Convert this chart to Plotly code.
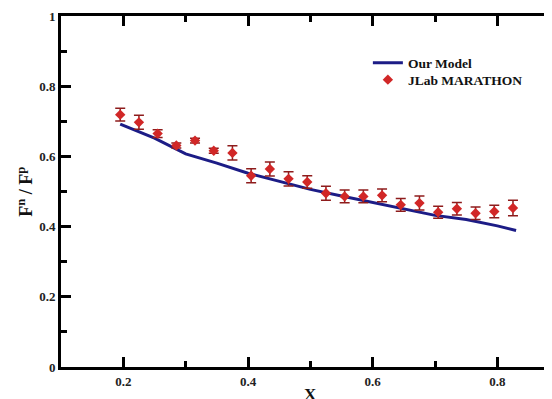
import plotly.graph_objects as go

# JLab MARATHON data (F2n/F2p)
data_x = [0.195, 0.225, 0.255, 0.285, 0.315, 0.345, 0.375, 0.405, 0.435, 0.465, 0.495,
          0.525, 0.555, 0.585, 0.615, 0.645, 0.675, 0.705, 0.735, 0.765, 0.795, 0.825]
data_y = [0.719, 0.697, 0.665, 0.631, 0.645, 0.616, 0.610, 0.545, 0.564, 0.536, 0.527,
          0.495, 0.486, 0.486, 0.489, 0.462, 0.467, 0.441, 0.451, 0.438, 0.443, 0.453]
data_err = [0.018, 0.020, 0.011, 0.007, 0.007, 0.007, 0.020, 0.020, 0.020, 0.020, 0.018,
            0.020, 0.018, 0.018, 0.018, 0.018, 0.020, 0.017, 0.018, 0.018, 0.018, 0.022]

# Model curve
model_x = [0.195, 0.25, 0.30, 0.35, 0.40, 0.45, 0.50, 0.55, 0.60, 0.65, 0.70, 0.75, 0.80, 0.83]
model_y = [0.692, 0.652, 0.607, 0.581, 0.552, 0.529, 0.506, 0.487, 0.468, 0.449, 0.432, 0.420, 0.402, 0.389]

x_ticks = [0.2, 0.4, 0.6, 0.8]
y_ticks = [0, 0.2, 0.4, 0.6, 0.8, 1]
y_ticklabels = ["0", "0.2", "0.4", "0.6", "0.8", "1"]

serif = "Liberation Serif"
legend_font = dict(family=serif, size=13.5, color="#111", weight="bold")
tick_font = dict(family=serif, size=13, color="#222", weight="bold")

fig = go.Figure()
fig.add_trace(go.Scatter(
    x=model_x, y=model_y, mode="lines", name="Our Model",
    line=dict(color="#1c1c86", width=3), legend="legend",
))
fig.add_trace(go.Scatter(
    x=data_x, y=data_y, mode="markers", name="JLab MARATHON",
    marker=dict(symbol="diamond", size=8, color="#d12727"),
    error_y=dict(type="data", array=data_err, visible=True, color="#8e1c1c",
                 thickness=1.5, width=5),
    legend="legend2",
))

fig.update_layout(
    width=544, height=391,
    margin=dict(l=53, r=0, t=8, b=32),
    paper_bgcolor="white", plot_bgcolor="white",
    showlegend=True,
    legend=dict(x=0.625, y=0.866, xanchor="left", yanchor="middle",
                bgcolor="rgba(0,0,0,0)", borderwidth=0, font=legend_font, itemwidth=30),
    legend2=dict(x=0.625, y=0.818, xanchor="left", yanchor="middle",
                 bgcolor="rgba(0,0,0,0)", borderwidth=0, font=legend_font, itemwidth=30),
    xaxis=dict(range=[0.1, 0.8876], showgrid=False, zeroline=False,
               showline=True, linecolor="black", linewidth=3, mirror="ticks",
               ticks="inside", ticklen=10, tickwidth=2.5, tickcolor="black",
               tickvals=x_ticks, ticktext=[str(v) for v in x_ticks], tickfont=tick_font,
               minor=dict(tickvals=[0.3, 0.5, 0.7], ticks="inside", ticklen=6,
                          tickwidth=2.5, tickcolor="black")),
    yaxis=dict(range=[0, 1], showgrid=False, zeroline=False,
               showline=True, linecolor="black", linewidth=3, mirror=False,
               ticks="inside", ticklen=10, tickwidth=2.5, tickcolor="black",
               tickvals=y_ticks, ticktext=y_ticklabels, tickfont=tick_font,
               minor=dict(tickvals=[0.1, 0.3, 0.5, 0.7, 0.9], ticks="inside", ticklen=6,
                          tickwidth=2.5, tickcolor="black")),
    annotations=[
        dict(text="F<sup>n</sup> / F<sup>p</sup>", xref="paper", yref="paper",
             x=-0.073, y=0.5, xanchor="center", yanchor="middle", textangle=-90,
             showarrow=False, font=dict(family=serif, size=18, color="#111", weight="bold")),
        dict(text="X", xref="x", yref="paper", x=0.5, y=-0.047,
             xanchor="center", yanchor="top", showarrow=False,
             font=dict(family=serif, size=17, color="#111", weight="bold")),
    ],
)

fig.write_html("out.html")
